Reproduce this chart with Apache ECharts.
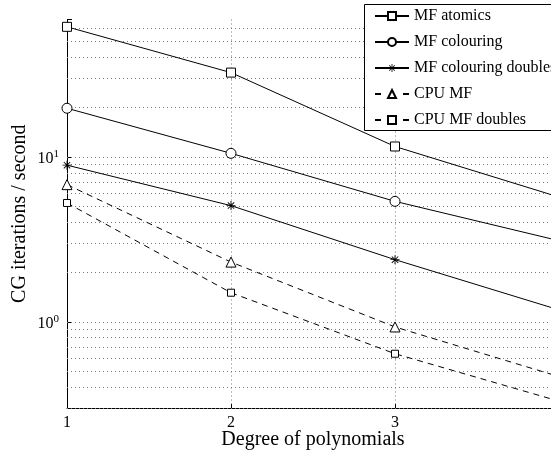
<!DOCTYPE html>
<html>
<head>
<meta charset="utf-8">
<script src="https://cdn.jsdelivr.net/npm/echarts@6/dist/echarts.min.js"></script>
<style>
  html, body { margin: 0; padding: 0; background: #fff; }
  #chart { width: 551px; height: 452px; }
</style>
</head>
<body>
<div id="chart"></div>
<script>
var degrees = [1, 2, 3, 4];
var seriesNames = ['MF atomics', 'MF colouring', 'MF colouring doubles', 'CPU MF', 'CPU MF doubles'];
var mfAtomics = [61.4, 32.4, 11.55, 5.7];
var mfColouring = [19.7, 10.5, 5.37, 3.1];
var mfColouringDoubles = [8.9, 5.06, 2.38, 1.18];
var cpuMf = [6.78, 2.3, 0.93, 0.465];
var cpuMfDoubles = [5.25, 1.5, 0.64, 0.33];
// horizontal grid lines (log axis minor + major ticks)
var gridTicks = [0.3, 0.4, 0.5, 0.6, 0.7, 0.8, 0.9, 1, 2, 3, 4, 5, 6, 7, 8, 9, 10, 20, 30, 40, 50, 60];

var chart = echarts.init(document.getElementById('chart'));
var font = 'Liberation Serif';
var asterisk = 'path://M9,0h2v20h-2z M0,9h20v2h-20z M2.2,3.6l1.4,-1.4l14.2,14.2l-1.4,1.4z M16.4,2.2l1.4,1.4l-14.2,14.2l-1.4,-1.4z';

function pairs(vals) {
    return degrees.map(function (d, i) { return [d, vals[i]]; });
}

function lineSeries(name, vals, symbol, size, dashed) {
    return {
        name: name,
        type: 'line',
        data: pairs(vals),
        symbol: symbol,
        symbolSize: size,
        showAllSymbol: true,
        color: '#000',
        lineStyle: { color: '#000', width: 1, type: dashed ? [6, 5] : 'solid' },
        itemStyle: { color: '#fff', borderColor: '#000', borderWidth: 1 },
        emphasis: { disabled: true },
        z: 2
    };
}

var series = [
    lineSeries(seriesNames[0], mfAtomics, 'rect', 9, false),
    lineSeries(seriesNames[1], mfColouring, 'circle', 10, false),
    lineSeries(seriesNames[2], mfColouringDoubles, asterisk, 9, false),
    lineSeries(seriesNames[3], cpuMf, 'triangle', 10, true),
    lineSeries(seriesNames[4], cpuMfDoubles, 'rect', 7, true)
];
series[2].itemStyle = { color: '#000', borderWidth: 0 };
series[0].markLine = {
    silent: true,
    symbol: 'none',
    label: { show: false },
    lineStyle: { color: '#777', width: 1, type: [1, 3] },
    data: gridTicks.map(function (v) { return { yAxis: v }; }),
    z: 1
};

var legendData = seriesNames.map(function (n, i) {
    var item = { name: n };
    if (i >= 3) item.lineStyle = { type: [6, 22] };
    return item;
});

var option = {
    backgroundColor: '#fff',
    animation: false,
    grid: { left: 67, right: -8, top: 19.5, bottom: 44, outerBoundsMode: 'none', containLabel: false },
    // legend frame runs off the right edge like the original figure
    graphic: [{
        type: 'rect',
        z: 3,
        shape: { x: 364.5, y: 4.5, width: 220, height: 126 },
        style: { fill: '#fff', stroke: '#000', lineWidth: 1 }
    }],
    legend: {
        orient: 'vertical',
        left: 364,
        top: 4,
        z: 4,
        padding: [4, 0, 5, 10],
        itemGap: 10,
        itemWidth: 34,
        itemHeight: 10,
        data: legendData,
        textStyle: { fontFamily: font, fontSize: 16, color: '#000', lineHeight: 16, overflow: 'none' }
    },
    xAxis: {
        type: 'value',
        min: 1,
        max: 4,
        interval: 1,
        name: 'Degree of polynomials',
        nameLocation: 'middle',
        nameGap: 22,
        nameMoveOverlap: false,
        nameTextStyle: { fontFamily: font, fontSize: 20, color: '#000' },
        axisLine: { lineStyle: { color: '#000', width: 1 } },
        axisTick: { inside: true, length: 4, lineStyle: { color: '#000' } },
        axisLabel: { fontFamily: font, fontSize: 16, color: '#000', margin: 7 },
        splitLine: { show: true, lineStyle: { color: '#777', width: 1, type: [1, 3] } }
    },
    yAxis: {
        type: 'log',
        logBase: 10,
        min: 0.3,
        max: 68,
        name: 'CG iterations / second',
        nameLocation: 'middle',
        nameGap: 37,
        nameMoveOverlap: false,
        nameTextStyle: { fontFamily: font, fontSize: 20, color: '#000' },
        axisLine: { show: true, lineStyle: { color: '#000', width: 1 } },
        axisTick: { inside: true, length: 5, lineStyle: { color: '#000' } },
        splitLine: { show: false },
        axisLabel: {
            margin: 8,
            formatter: function (v) {
                var e = Math.log10(v);
                if (Math.abs(e - Math.round(e)) > 1e-6) return '';
                return '{b|10}{s|' + Math.round(e) + '}';
            },
            rich: {
                b: { fontFamily: font, fontSize: 16, color: '#000', lineHeight: 16, padding: [4, 0, 0, 0] },
                s: { fontFamily: font, fontSize: 11, color: '#000', lineHeight: 16, verticalAlign: 'top' }
            }
        }
    },
    series: series
};
chart.setOption(option);
</script>
</body>
</html>
